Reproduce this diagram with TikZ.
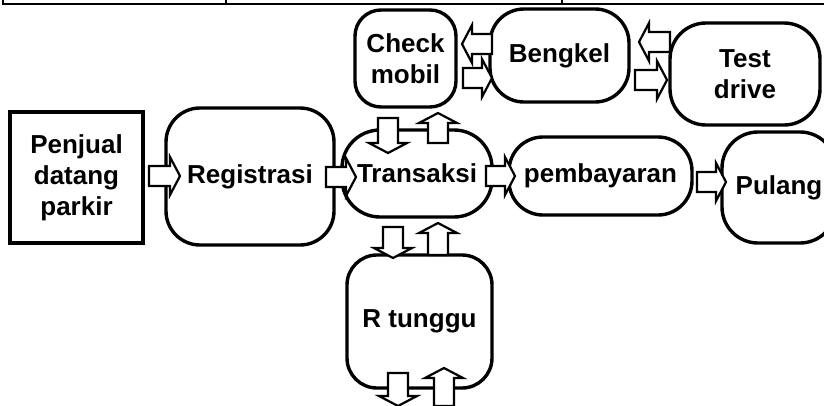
\documentclass[tikz,border=0pt]{standalone}
\usepackage{fontspec}
\setmainfont{Liberation Sans}
\begin{document}
\begin{tikzpicture}[x=1pt,y=-1pt,
  box/.style={draw, line width=3.4pt, rounded corners=#1, inner sep=0pt,
    align=center, font=\bfseries\fontsize{26}{31}\selectfont},
  box/.default=34pt,
  rule/.style={line width=1.3pt},
  % hollow block arrow, drawn from its tail (origin) to its tip at length #1
  pics/barrow/.style={code={
    \draw[fill=white, line width=2.2pt, line join=miter]
      (0,-10) -- (#1-10,-10) -- (#1-10,-19) -- (#1,0) -- (#1-10,19)
      -- (#1-10,10) -- (0,10) -- cycle;
  }}]
\useasboundingbox (0,0) rectangle (824,405);

% bottom edge of the table row above
\draw[rule] (3,0) -- (3,4) -- (824,4);
\draw[rule] (226,0) -- (226,4);
\draw[rule] (562,0) -- (562,4);

% stations
\node[box=0pt, minimum width=133pt, minimum height=131pt] (pen) at (76.5,177.5) {Penjual\\datang\\parkir};
\node[box=34pt, minimum width=168pt, minimum height=137pt] (reg) at (250,176.5) {Registrasi};
\node[box=26pt, minimum width=101pt, minimum height=97pt] (chk) at (405.5,58.5) {Check\\mobil};
\node[box=34pt, minimum width=139pt, minimum height=93pt] (ben) at (559.5,55.5) {Bengkel};
\node[box=36pt, minimum width=150pt, minimum height=102pt] (tes) at (745,74) {Test\\drive};
\node[box=38pt, minimum width=150pt, minimum height=87pt] (tra) at (417,173.5) {Transaksi};
\node[box=34pt, minimum width=183pt, minimum height=78pt] (pem) at (600.5,176) {pembayaran};
\node[box=36pt, minimum width=114pt, minimum height=111pt] (pul) at (779,187.5) {Pulang};
\node[box=30pt, minimum width=145pt, minimum height=133pt] (rtg) at (419.5,321.5) {R tunggu};

% block arrows along the main line
\pic (a1) at (149,176) {barrow=31};
\pic (a2) at (326,177) {barrow=30};
\pic (a3) at (486,176) {barrow=29};
\pic (a4) at (697,182) {barrow=29};

% Check mobil <-> Bengkel <-> Test drive
\pic[rotate=180] (a5) at (492,44) {barrow=30};
\pic (a6) at (463,78) {barrow=29};
\pic[rotate=180] (a7) at (670,42) {barrow=31};
\pic (a8) at (635,80) {barrow=32};

% Transaksi <-> Check mobil
\pic[rotate=-90] (a9) at (388,118) {barrow=35};
\pic[rotate=90] (a10) at (438,143) {barrow=30};

% Transaksi <-> R tunggu
\pic[rotate=-90] (a11) at (393,227) {barrow=31};
\pic[rotate=90] (a12) at (438,255) {barrow=32};

% R tunggu, out and back in
\pic[rotate=-90] (a13) at (398,373) {barrow=33};
\pic[rotate=90] (a14) at (444,406) {barrow=38};
\end{tikzpicture}
\end{document}
